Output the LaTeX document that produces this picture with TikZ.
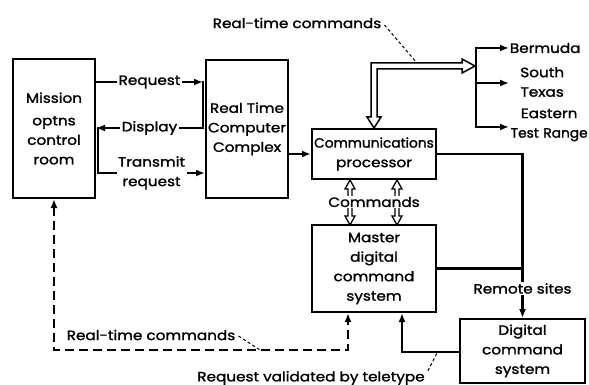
\documentclass[tikz,border=0pt]{standalone}
\usepackage{fontspec}
\setmainfont{Poppins}[FakeBold=1.5,FakeStretch=1.13]
\newfontfamily\narrowface{Poppins}[FakeBold=1.5,FakeStretch=1.02]
\usetikzlibrary{arrows.meta,calc}
\begin{document}
\begin{tikzpicture}[x=1pt,y=-1pt,
  txt/.style={font=\fontsize{13.5pt}{19.5pt}\selectfont},
  box/.style={draw,line width=2pt,inner sep=0pt,align=center,txt},
  wire/.style={line width=2.8pt},
  lbl/.style={fill=white,inner sep=1.5pt,align=center,txt},
  dashline/.style={line width=2.8pt,dash pattern=on 9pt off 5pt},
  leader/.style={line width=1pt,dash pattern=on 3pt off 2.5pt},
  hollow/.style={line width=1.5pt,fill=white,line join=miter},
  site/.style={txt,anchor=west,align=center,inner sep=0pt},
  >={Latex[length=9pt,width=7pt]}]
\useasboundingbox (0,0) rectangle (589,385);

% blocks
\node[box,minimum width=82pt,minimum height=139pt] (mission) at (54,128.5) {Mission\\[3pt]optns\\control\\room};
\node[box,minimum width=82pt,minimum height=138pt] (rtcc) at (247,129) {Real Time\\Computer\\Complex};
\node[box,minimum width=124pt,minimum height=50pt] (comms) at (374,154) {{\narrowface Communications}\\processor};
\node[box,minimum width=124pt,minimum height=87pt] (master) at (374,268.5) {Master\\digital\\command\\system};
\node[box,minimum width=125pt,minimum height=64pt] (dcs) at (522.5,351) {Digital\\command\\system};

% mission room <-> computer complex
\coordinate (yreq) at (0,82);
\coordinate (ydisp) at (0,128);
\coordinate (ytx) at (0,173);
\coordinate (barR) at ($(rtcc.west)+(-2,0)$);
\coordinate (barL) at ($(mission.east)+(2,0)$);
\draw[wire,->] (mission.east |- yreq) -- node[lbl]{Request} (barR |- yreq);
\draw[wire,line cap=rect] (barR |- yreq) -- (barR |- ydisp);
\draw[wire,->] (barR |- ydisp) -- node[lbl]{Display} (mission.east |- ydisp);
\draw[wire,line cap=rect] (barL |- ydisp) -- (barL |- ytx);
\draw[wire,->] (barL |- ytx) -- node[lbl]{Transmit\\request} (rtcc.west |- ytx);

% computer complex -> communications processor
\draw[wire,->] (rtcc.east |- comms.west) -- (comms.west);

% remote sites
\coordinate (jn) at (dcs.north |- comms.east);
\draw[wire,->] (comms.east) -- (jn) -- node[lbl,pos=0.82]{Remote sites} (dcs.north);
\draw[wire] (master.east) -- (master.east -| jn);

% hollow double line to the tracking stations
\draw[hollow] (comms.north) -- ++(-7,-11) -- ++(4,0) -- ++(0,-54) -- ++(91,0) -- ++(0,-4)
  -- ++(13,7) -- ++(-13,7) -- ++(0,-4) -- ++(-85,0) -- ++(0,48) -- ++(4,0) -- cycle;
\coordinate (bTop) at (476,48);
\coordinate (bMid) at (476,83);
\coordinate (bBot) at (476,127);
\draw[wire,line cap=rect] (bTop) -- (bBot);
\node[site,text width=72pt] (bermuda) at (509,48) {Bermuda};
\node[site,text width=66pt] (stx) at (509,82) {South\\Texas};
\node[site,text width=80pt] (etr) at (509,125) {Eastern\\{\narrowface Test Range}};
\draw[wire,->] (bTop) -- (bermuda.west |- bTop);
\draw[wire,->] (bMid) -- (stx.west |- bMid);
\draw[wire,->] (bBot) -- (etr.west |- bBot);

% commands between processor and master system
\foreach \dx in {-24,23}
  \draw[hollow,line width=1.3pt] ($(comms.south)+(\dx,0)$) -- ++(5,9) -- ++(-3,0) -- ++(0,27) -- ++(3,0)
    -- ++(-5,9) -- ++(-5,-9) -- ++(3,0) -- ++(0,-27) -- ++(-3,0) -- cycle;
\node[lbl,inner sep=1pt] (cmd) at ($(comms.south)!0.5!(master.north)$) {Commands};

% real-time commands (dashed)
\coordinate (dl) at (0,350);
\coordinate (mB1) at ($(master.south)+(-26,0)$);
\coordinate (mB2) at ($(master.south)+(28,0)$);
\draw[dashline,<->] (mission.south) -- (mission.south |- dl) -- (mB1 |- dl) -- (mB1);
\node[txt,inner sep=0pt] (rtcB) at (151,335) {Real-time commands};
\coordinate (rtcBtip) at (260,350);
\draw[leader] ($(rtcB.east)+(3,1)$) -- (rtcBtip);

% teletype validation
\coordinate (tl) at (0,352);
\draw[wire,->] (dcs.west |- tl) -- (mB2 |- tl) -- (mB2);
\node[txt,inner sep=0pt] (tv) at (311,378) {Request validated by teletype};
\coordinate (tvtip) at (437,353);
\draw[leader] ($(tv.north east)+(3,0)$) -- (tvtip);

% top annotation
\node[txt,inner sep=0pt] (rtcA) at (297,23) {Real-time commands};
\coordinate (rtcAtip) at (417,63);
\draw[leader] ($(rtcA.east)+(3,2)$) -- (rtcAtip);
\end{tikzpicture}
\end{document}
